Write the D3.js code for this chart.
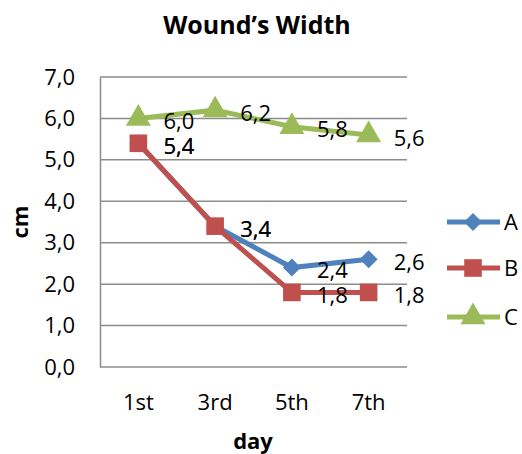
<!DOCTYPE html>
<html>
<head>
<meta charset="utf-8">
<script src="https://d3js.org/d3.v7.min.js"></script>
<style>
  body { margin: 0; background: #fff; font-family: "Open Sans", sans-serif; }
</style>
</head>
<body>
<script>
// chart data
var days = ["1st", "3rd", "5th", "7th"];
var seriesNames = ["A", "B", "C"];
var valuesA = [5.4, 3.4, 2.4, 2.6];
var valuesB = [5.4, 3.4, 1.8, 1.8];
var valuesC = [6.0, 6.2, 5.8, 5.6];
var yTicks = [0, 1, 2, 3, 4, 5, 6, 7];

var colors = { A: "#4F81BD", B: "#C0504D", C: "#9BBB59" };
var series = [
  { name: "A", values: valuesA, shape: d3.symbolSquare, size: 162, rot: 45 },
  { name: "B", values: valuesB, shape: d3.symbolSquare, size: 310, rot: 0 },
  { name: "C", values: valuesC, shape: d3.symbolTriangle, size: 270, rot: 0 }
];

var width = 522, height = 454;
var svg = d3.select("body").append("svg")
  .attr("width", width)
  .attr("height", height);

var plotLeft = 100, plotRight = 407, plotTop = 77, plotBottom = 367;

var x = d3.scaleBand().domain(days).range([plotLeft, plotRight]);
var y = d3.scaleLinear().domain([0, 7]).range([plotBottom, plotTop]);
var fmt = function (v) { return d3.format(".1f")(v).replace(".", ","); };
var cx = function (i) { return x(days[i]) + x.bandwidth() / 2; };

// title
svg.append("text")
  .attr("x", 257).attr("y", 34)
  .attr("text-anchor", "middle")
  .attr("font-weight", "bold")
  .attr("font-size", 25)
  .text("Wound’s Width");

// gridlines
svg.append("g").selectAll("line")
  .data(yTicks)
  .enter().append("line")
  .attr("x1", plotLeft).attr("x2", plotRight)
  .attr("y1", d => y(d)).attr("y2", d => y(d))
  .attr("stroke", "#8c8c8c")
  .attr("stroke-width", 1.5);

// y axis
var yAxis = svg.append("g")
  .attr("transform", "translate(" + plotLeft + ",0)")
  .call(d3.axisLeft(y).tickValues(yTicks).tickFormat(fmt).tickSize(0).tickPadding(25));
yAxis.select(".domain").attr("stroke", "#8c8c8c").attr("stroke-width", 1.5);
yAxis.selectAll("text").attr("font-size", 22).attr("font-family", "Open Sans").attr("fill", "#000");

// x axis labels
var xAxis = svg.append("g")
  .attr("transform", "translate(0," + plotBottom + ")")
  .call(d3.axisBottom(x).tickSize(0).tickPadding(27));
xAxis.select(".domain").remove();
xAxis.selectAll("text").attr("font-size", 22).attr("font-family", "Open Sans").attr("fill", "#000");

// axis titles
svg.append("text")
  .attr("x", 253).attr("y", 449)
  .attr("text-anchor", "middle")
  .attr("font-weight", "bold")
  .attr("font-size", 22)
  .text("day");
svg.append("text")
  .attr("transform", "translate(28,222) rotate(-90)")
  .attr("text-anchor", "middle")
  .attr("font-weight", "bold")
  .attr("font-size", 22)
  .text("cm");

var line = d3.line()
  .x((d, i) => cx(i))
  .y(d => y(d));

series.forEach(function (s) {
  var g = svg.append("g");
  g.append("path")
    .datum(s.values)
    .attr("d", line)
    .attr("fill", "none")
    .attr("stroke", colors[s.name])
    .attr("stroke-width", 5);
  g.selectAll("path.m")
    .data(s.values)
    .enter().append("path")
    .attr("class", "m")
    .attr("d", d3.symbol().type(s.shape).size(s.size))
    .attr("transform", (d, i) => "translate(" + cx(i) + "," + y(d) + ") rotate(" + s.rot + ")")
    .attr("fill", colors[s.name]);
});

// data labels
series.forEach(function (s) {
  svg.append("g").selectAll("text")
    .data(s.values)
    .enter().append("text")
    .attr("x", (d, i) => cx(i) + 25)
    .attr("y", d => y(d) + 3)
    .attr("dy", "0.35em")
    .attr("font-size", 22)
    .attr("fill", "#000")
    .text(fmt);
});

// legend
var legend = svg.append("g").selectAll("g")
  .data(series)
  .enter().append("g")
  .attr("transform", (d, i) => "translate(447," + [222, 268, 317][i] + ")");
legend.append("line")
  .attr("x1", 0).attr("x2", 53)
  .attr("stroke", d => colors[d.name])
  .attr("stroke-width", 5);
legend.append("path")
  .attr("d", d => d3.symbol().type(d.shape).size(d.size)())
  .attr("transform", d => "translate(26,0) rotate(" + d.rot + ")")
  .attr("fill", d => colors[d.name]);
legend.append("text")
  .attr("x", 57).attr("dy", "0.35em")
  .attr("font-size", 22)
  .text(d => d.name);
</script>
</body>
</html>
